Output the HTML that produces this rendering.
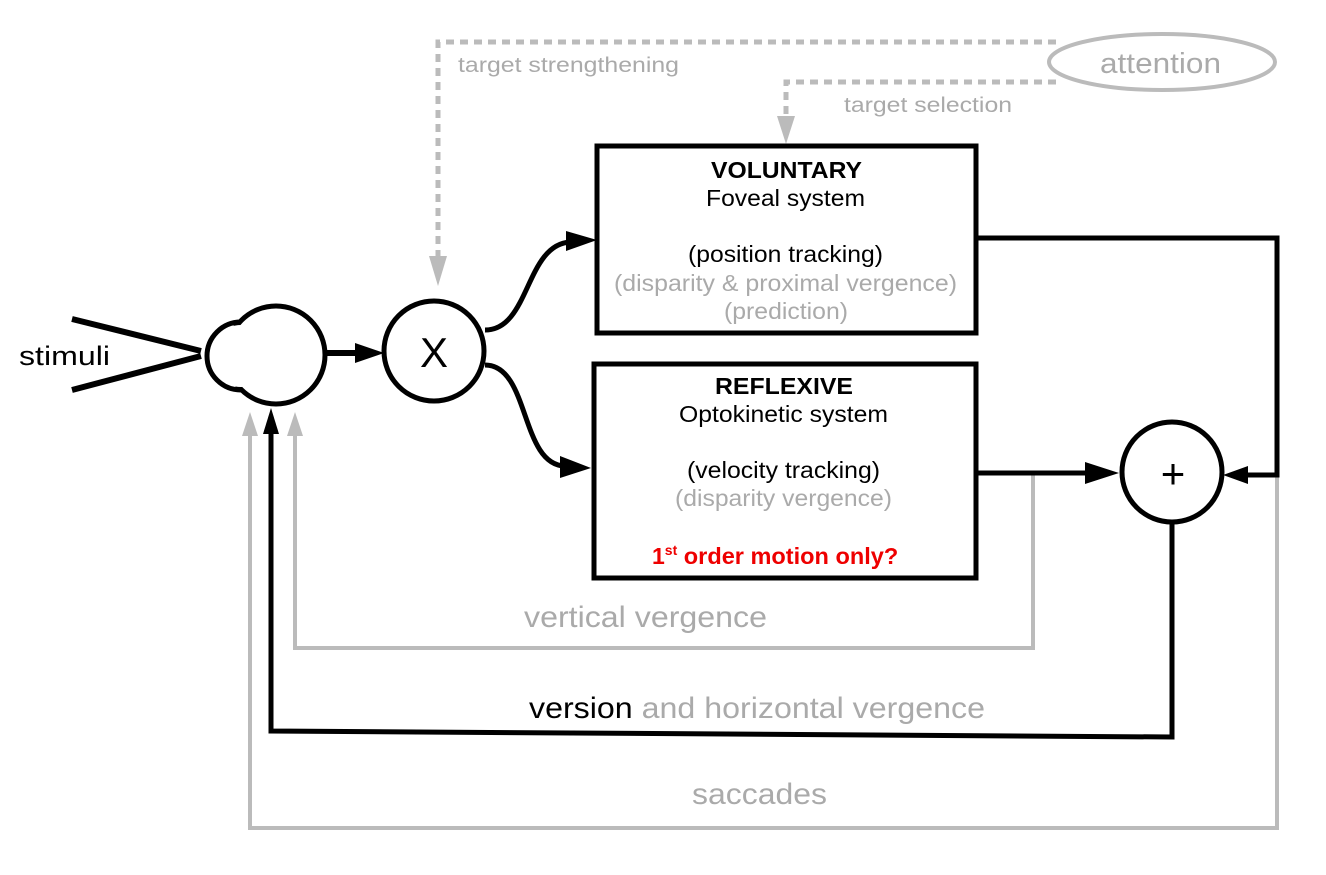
<!DOCTYPE html>
<html><head><style>
html,body{margin:0;padding:0;background:#fff;}
svg{display:block;}
text{font-family:"Liberation Sans",sans-serif;}
</style></head><body>
<svg width="1326" height="875" viewBox="0 0 1326 875" xmlns="http://www.w3.org/2000/svg">
<g stroke="#bbb" stroke-width="5" fill="none" stroke-dasharray="8 6">
<path d="M1056,42 L438,42 L438,258"/>
<path d="M1056,82 L786,82 L786,118"/>
</g>
<polygon points="429,256 447,256 438,286" fill="#bbb"/>
<polygon points="777,116 795,116 786,144" fill="#bbb"/>
<ellipse cx="1162" cy="62" rx="113" ry="28" fill="#fff" stroke="#bbb" stroke-width="4"/>
<text x="1100" y="73" font-size="29" fill="#aaa" textLength="121" lengthAdjust="spacingAndGlyphs">attention</text>
<text x="458" y="72" font-size="21" fill="#aaa" textLength="221" lengthAdjust="spacingAndGlyphs">target strengthening</text>
<text x="844" y="112" font-size="21" fill="#aaa" textLength="168" lengthAdjust="spacingAndGlyphs">target selection</text>

<g fill="none" stroke-width="4">
<path d="M1277,475 L1277,828 L250,828 L250,435" stroke="#bbb"/>
<path d="M1033,475 L1033,648 L295,648 L295,435" stroke="#bbb"/>
<path d="M1172,522 L1172,737 L271,731 L271,432" stroke="#000" stroke-width="5"/>
</g>
<polygon points="242,436 258,436 250,412" fill="#bbb"/>
<polygon points="287,436 303,436 295,412" fill="#bbb"/>
<polygon points="263,434 279,434 271,408" fill="#000"/>
<text x="524" y="627" font-size="30" fill="#aaa" textLength="243" lengthAdjust="spacingAndGlyphs">vertical vergence</text>
<text x="529" y="718" font-size="30" fill="#000" textLength="456" lengthAdjust="spacingAndGlyphs">version <tspan fill="#aaa">and horizontal vergence</tspan></text>
<text x="692" y="804" font-size="30" fill="#aaa" textLength="135" lengthAdjust="spacingAndGlyphs">saccades</text>

<text x="19" y="365" font-size="27" fill="#000" textLength="91" lengthAdjust="spacingAndGlyphs">stimuli</text>
<g stroke="#000" stroke-width="6">
<line x1="72" y1="319" x2="201" y2="351"/>
<line x1="72" y1="390" x2="201" y2="356"/>
</g>
<circle cx="241" cy="356" r="34" fill="#fff" stroke="#000" stroke-width="5"/>
<circle cx="276" cy="355" r="49" fill="#fff" stroke="#000" stroke-width="5"/>
<circle cx="241" cy="356" r="31" fill="#fff"/>
<rect x="240" y="330" width="30" height="52" fill="#fff"/>
<line x1="326" y1="353" x2="360" y2="353" stroke="#000" stroke-width="6"/>
<polygon points="355,343 384,353 355,363" fill="#000"/>
<circle cx="434" cy="351" r="50" fill="#fff" stroke="#000" stroke-width="5"/>
<text x="434" y="367" font-size="42" text-anchor="middle" fill="#000">X</text>

<path d="M485,330 C530,330 525,245 570,242" fill="none" stroke="#000" stroke-width="5"/>
<polygon points="566,231 597,240 566,251" fill="#000"/>
<path d="M485,365 C530,365 520,465 565,466" fill="none" stroke="#000" stroke-width="5"/>
<polygon points="560,456 591,468 560,478" fill="#000"/>

<rect x="597" y="146" width="379" height="187" fill="#fff" stroke="#000" stroke-width="5"/>
<rect x="594" y="364" width="382" height="214" fill="#fff" stroke="#000" stroke-width="5"/>
<g font-size="23" lengthAdjust="spacingAndGlyphs">
<text x="711" y="178" font-weight="bold" textLength="151" lengthAdjust="spacingAndGlyphs">VOLUNTARY</text>
<text x="706" y="206" textLength="159" lengthAdjust="spacingAndGlyphs">Foveal system</text>
<text x="688" y="262" textLength="195" lengthAdjust="spacingAndGlyphs">(position tracking)</text>
<text x="614" y="291" fill="#aaa" textLength="343" lengthAdjust="spacingAndGlyphs">(disparity &amp; proximal vergence)</text>
<text x="724" y="319" fill="#aaa" textLength="124" lengthAdjust="spacingAndGlyphs">(prediction)</text>
<text x="715" y="394" font-weight="bold" textLength="138" lengthAdjust="spacingAndGlyphs">REFLEXIVE</text>
<text x="679" y="422" textLength="209" lengthAdjust="spacingAndGlyphs">Optokinetic system</text>
<text x="687" y="478" textLength="193" lengthAdjust="spacingAndGlyphs">(velocity tracking)</text>
<text x="675" y="506" fill="#aaa" textLength="217" lengthAdjust="spacingAndGlyphs">(disparity vergence)</text>
</g>
<text x="652" y="564" font-size="23" fill="#e00" font-weight="bold">1<tspan font-size="14" dy="-9">st</tspan><tspan dy="9" textLength="221" lengthAdjust="spacingAndGlyphs"> order motion only?</tspan></text>

<path d="M977,238 L1277,238 L1277,475 L1245,475" fill="none" stroke="#000" stroke-width="5"/>
<polygon points="1248,466 1223,475 1248,484" fill="#000"/>
<line x1="977" y1="473" x2="1090" y2="473" stroke="#000" stroke-width="5"/>
<polygon points="1085,462 1119,473 1085,484" fill="#000"/>
<circle cx="1172" cy="472" r="50" fill="#fff" stroke="#000" stroke-width="5"/>
<text x="1173" y="488" font-size="42" text-anchor="middle" fill="#000">+</text>
</svg>
</body></html>
